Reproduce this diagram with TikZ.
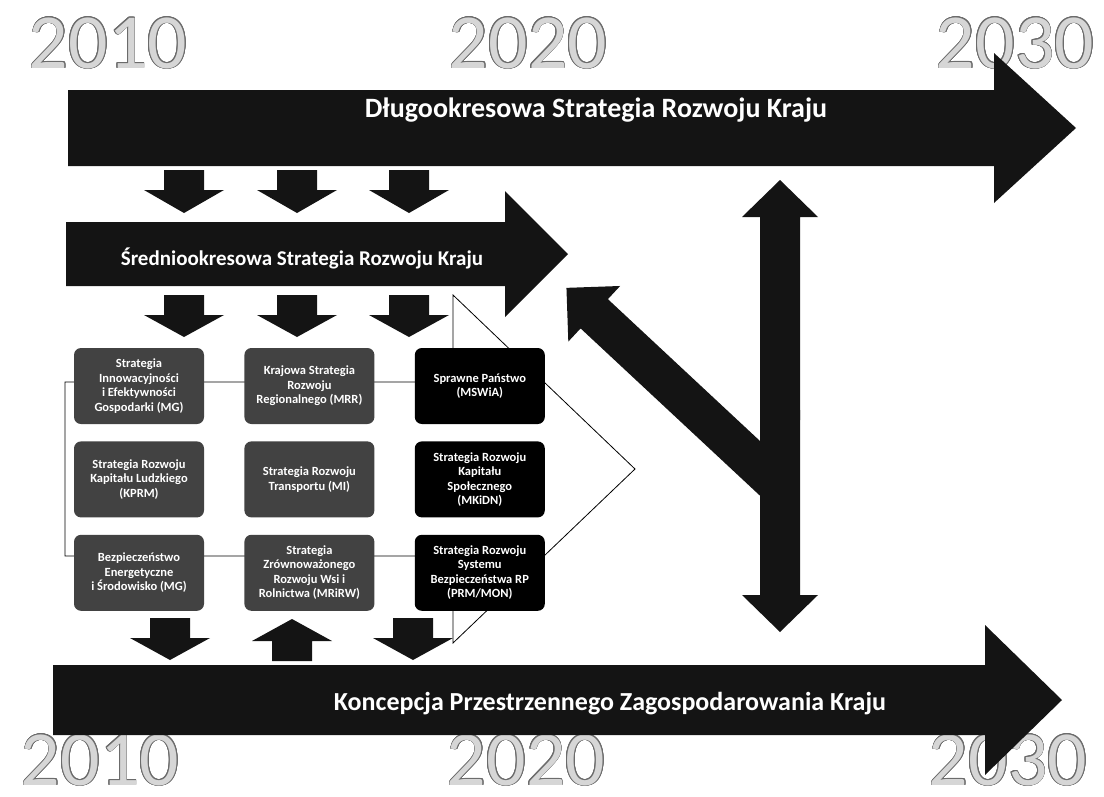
\documentclass[tikz,border=0pt]{standalone}
\usepackage{fontspec}
\setmainfont{Carlito}
\usepackage{contour}
\usetikzlibrary{positioning}

\definecolor{yearfill}{gray}{0.84}
\definecolor{yearline}{gray}{0.42}
\contourlength{0.9pt}
\contournumber{16}

\newcommand{\yeartext}[1]{\contour{yearline}{\textcolor{yearfill}{#1}}}

\newcommand{\blockarrow}[6]{%
  \fill[blockfill, shift={#1}, rotate=#2]
    (0,-#4) -- ({#3-#6},-#4) -- ({#3-#6},-#5) -- (#3,0)
    -- ({#3-#6},#5) -- ({#3-#6},#4) -- (0,#4) -- cycle;}

\tikzset{
  blockfill/.style={fill=black!92},
  stratbox/.style={rounded corners=7pt, minimum width=130pt, minimum height=76pt,
    inner sep=2pt, text=white, align=center, font=\bfseries\fontsize{12.5}{14.5}\selectfont},
  greybox/.style={stratbox, fill=black!74},
  blackbox/.style={stratbox, fill=black},
  bartitle/.style={text=white, inner sep=0pt, font=\bfseries\fontsize{24}{28}\selectfont},
  yearlabel/.style={anchor=base, inner sep=0pt, font=\fontsize{78}{80}\selectfont}
}

\begin{document}
\begin{tikzpicture}[
                x=1pt, y=-1pt,
                node distance=17pt and 40pt
            ]
                \useasboundingbox (0,0) rectangle (1104,796);

                \node[yearlabel] (yearA) at (108,68)   {\yeartext{2010}};
                \node[yearlabel] (yearB) at (528,68)   {\yeartext{2020}};
                \node[yearlabel] (yearC) at (1015,68)  {\yeartext{2030}};
                \node[yearlabel] (yearD) at (100,785)  {\yeartext{2010}};
                \node[yearlabel] (yearE) at (526,785)  {\yeartext{2020}};
                \node[yearlabel] (yearF) at (1008,785) {\yeartext{2030}};

                \draw[line width=0.8pt, fill=white] (65,382) -- (453,382) -- (453,295) -- (635,469)
                    -- (453,643) -- (453,556) -- (65,556) -- cycle;

                \blockarrow{(68,128)}{0}{1008}{38}{75}{82}
                \blockarrow{(66,254)}{0}{502}{32}{63}{63}
                \blockarrow{(53,700)}{0}{1009}{35}{75}{77}

                \foreach \x in {184,297,409} {
                    \blockarrow{(\x,170)}{-90}{43}{20}{40}{23}
                    \blockarrow{(\x,295)}{-90}{42}{20}{40}{22}
                }
                \blockarrow{(170,618)}{-90}{42}{20}{40}{22}
                \blockarrow{(292,661)}{90}{42}{20}{40}{22}
                \blockarrow{(413,618)}{-90}{42}{20}{40}{22}

                \blockarrow{(780,487)}{137}{292}{20}{38}{38}
                \blockarrow{(780,420)}{90}{240}{20}{38}{37}
                \blockarrow{(780,410)}{-90}{222}{20}{38}{37}

                \node[bartitle, font=\bfseries\fontsize{28}{32}\selectfont] (longterm) at (596,110) {Długookresowa Strategia Rozwoju Kraju};
                \node[bartitle, font=\bfseries\fontsize{21}{25}\selectfont] (midterm)  at (302,258) {Średniookresowa Strategia Rozwoju Kraju};
                \node[bartitle, font=\bfseries\fontsize{26}{30}\selectfont] (spatial)  at (610,704) {Koncepcja Przestrzennego Zagospodarowania Kraju};

                \node[greybox] (innov) at (139,386)       {Strategia\\Innowacyjności\\i Efektywności\\Gospodarki (MG)};
                \node[greybox] (region) [right=of innov]  {Krajowa Strategia\\Rozwoju\\Regionalnego (MRR)};
                \node[blackbox] (state) [right=of region] {Sprawne Państwo\\(MSWiA)};
                \node[greybox] (human) [below=of innov]   {Strategia Rozwoju\\Kapitału Ludzkiego\\(KPRM)};
                \node[greybox] (transp) [below=of region] {Strategia Rozwoju\\Transportu (MI)};
                \node[blackbox] (social) [below=of state] {Strategia Rozwoju\\Kapitału\\Społecznego\\(MKiDN)};
                \node[greybox] (energy) [below=of human]  {Bezpieczeństwo\\Energetyczne\\i Środowisko (MG)};
                \node[greybox] (rural) [below=of transp]  {Strategia\\Zrównoważonego\\Rozwoju Wsi i\\Rolnictwa (MRiRW)};
                \node[blackbox] (security) [below=of social] {Strategia Rozwoju\\Systemu\\Bezpieczeństwa RP\\(PRM/MON)};
            \end{tikzpicture}
\end{document}
